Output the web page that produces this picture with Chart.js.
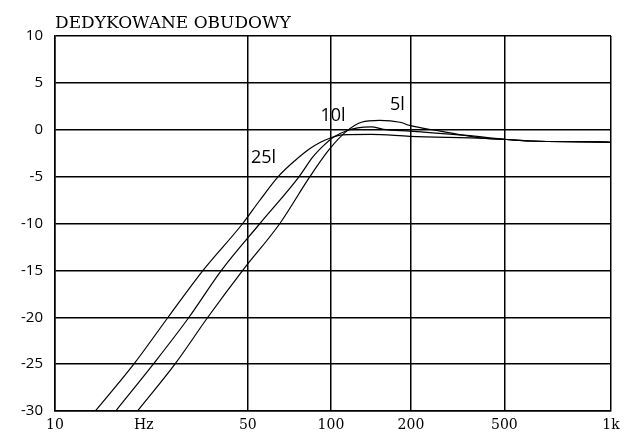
<!DOCTYPE html>
<html>
<head>
<meta charset="utf-8">
<script src="https://cdn.jsdelivr.net/npm/chart.js@4/dist/chart.umd.min.js"></script>
<style>
  html, body { margin: 0; padding: 0; background: #fff; }
  #wrap { width: 630px; height: 436px; }
</style>
</head>
<body>
<div id="wrap"><canvas id="myChart" width="630" height="436"></canvas></div>
<script>
// frequency response, Hz vs dB
const curve25 = [[14, -30], [19.3, -25], [25.7, -20], [34.4, -15], [47.9, -10], [55, -7.6], [64.4, -5], [74, -3.3], [84, -2.0], [92, -1.3], [100, -0.85], [110, -0.55], [140, -0.5], [193, -0.7], [366, -0.93], [433, -1.04], [527, -1.2], [1000, -1.33], [1035, -1.35]];
const curve10 = [[16.6, -30], [22.7, -25], [30.6, -20], [40.1, -15], [55.3, -10], [76.7, -5], [86, -2.9], [94, -1.7], [102, -0.8], [114, -0.1], [125, 0.2], [140, 0.3], [155, 0.05], [193, -0.15], [310, -0.6], [433, -1.04], [527, -1.2], [1000, -1.33], [1035, -1.35]];
const curve5 = [[19.9, -30], [27.2, -25], [35.8, -20], [47.9, -15], [65.3, -10], [83.9, -5], [98.6, -2.1], [114, -0.15], [129, 0.8], [150, 1.0], [178, 0.8], [193, 0.46], [249, -0.15], [348, -0.86], [433, -1.04], [527, -1.2], [1000, -1.33], [1035, -1.35]];

const xTickValues = [10, 21, 50, 100, 195, 425, 1035];
const xTickLabels = ["10", "Hz", "50", "100", "200", "500", "1k"];

const curveLabels = [
  { text: "25l", x: 57, y: -3.0 },
  { text: "10l", x: 101.7, y: 1.5 },
  { text: "5l", x: 174, y: 2.7 },
];

const titleText = "DEDYKOWANE OBUDOWY";

function toPoints(arr) {
  return arr.map(function (p) { return { x: p[0], y: p[1] }; });
}

function lineSet(arr) {
  return {
    data: toPoints(arr),
    borderColor: "#000",
    borderWidth: 1.2,
    pointRadius: 0,
    fill: false,
    cubicInterpolationMode: "monotone",
  };
}

const extras = {
  id: "extras",
  afterDraw(chart) {
    const c = chart.ctx;
    const xs = chart.scales.x;
    const ys = chart.scales.y;
    c.save();
    c.fillStyle = "#000";
    c.textBaseline = "middle";
    c.textAlign = "center";
    c.font = '18px "Open Sans"';
    for (const l of curveLabels) {
      c.fillText(l.text, xs.getPixelForValue(l.x), ys.getPixelForValue(l.y));
    }
    c.textAlign = "left";
    c.textBaseline = "alphabetic";
    c.font = '17px "DejaVu Serif"';
    c.fillText(titleText, chart.chartArea.left, 28);
    c.restore();
  },
};

const ctx = document.getElementById("myChart");
const myChart = new Chart(ctx, {
  type: "line",
  data: {
    datasets: [lineSet(curve25), lineSet(curve10), lineSet(curve5)],
  },
  options: {
    responsive: false,
    animation: false,
    layout: { padding: { top: 36, right: 19, left: 0, bottom: 0 } },
    plugins: {
      legend: { display: false },
      tooltip: { enabled: false },
    },
    scales: {
      x: {
        type: "logarithmic",
        min: 10,
        max: 1035,
        afterBuildTicks: function (scale) {
          scale.ticks = xTickValues.map(function (v) { return { value: v }; });
        },
        afterFit: function (scale) { scale.height = 25; },
        ticks: {
          autoSkip: false,
          maxRotation: 0,
          padding: 6,
          color: "#000",
          font: { family: '"DejaVu Serif"', size: 14 },
          callback: function (val, i) { return xTickLabels[i]; },
        },
        grid: {
          drawTicks: false,
          color: function (c) { return c.index === 1 ? "rgba(0,0,0,0)" : "#000"; },
          lineWidth: 1.5,
        },
        border: { color: "#000", width: 1.5 },
      },
      y: {
        min: -30,
        max: 10,
        afterFit: function (scale) { scale.width = 55; },
        ticks: {
          stepSize: 5,
          padding: 12,
          color: "#000",
          font: { family: '"Open Sans"', size: 15 },
        },
        grid: { drawTicks: false, color: "#000", lineWidth: 1.5 },
        border: { color: "#000", width: 1.5 },
      },
    },
  },
  plugins: [extras],
});
</script>
</body>
</html>
